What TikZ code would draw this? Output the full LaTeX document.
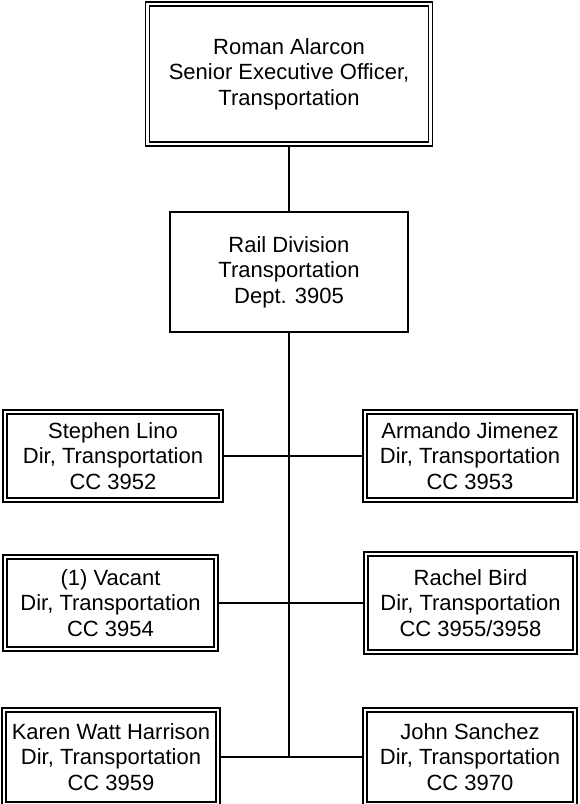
\documentclass[tikz,border=0pt]{standalone}
\usepackage{fontspec}
\setmainfont{Liberation Sans}
\begin{document}
\begin{tikzpicture}[x=1pt,y=-1pt,
  txt/.style={font=\fontsize{22}{25.5}\selectfont, align=center, inner sep=0pt},
  pbox/.style={txt, draw, line width=1.8pt, rectangle, minimum width=#1},
  sbox/.style={txt, draw, line width=1.6pt, rectangle},
  conn/.style={line width=1.8pt}]
\fill[white] (0,0) rectangle (579,804);
\useasboundingbox (0,0) rectangle (579,804);

\node[pbox=287, minimum height=144] (top) at (289,74) {Roman Alarcon\\Senior Executive Officer,\\Transportation};
\node[sbox, minimum width=238, minimum height=120] (rail) at (289,272) {Rail Division\\Transportation\\Dept. 3905};

\node[pbox=220, minimum height=92] (lino) at (113,456) {Stephen Lino\\Dir, Transportation\\CC 3952};
\node[pbox=214, minimum height=92] (jim) at (470,456) {Armando Jimenez\\Dir, Transportation\\CC 3953};
\node[pbox=215, minimum height=96] (vac) at (110.5,603) {(1) Vacant\\Dir, Transportation\\CC 3954};
\node[pbox=213, minimum height=102] (bird) at (470.5,603) {Rachel Bird\\Dir, Transportation\\CC 3955/3958};
\node[pbox=218, minimum height=98] (karen) at (111,757) {Karen Watt Harrison\\Dir, Transportation\\CC 3959};
\node[pbox=214, minimum height=98] (john) at (470,757) {John Sanchez\\Dir, Transportation\\CC 3970};

\foreach \n in {top,lino,jim,vac,bird,karen,john}{
  \draw[line width=1.4pt] ([shift={(5,5)}]\n.north west) rectangle ([shift={(-5,-5)}]\n.south east);
}

\coordinate (bend) at (rail.south |- karen.east);
\draw[conn] (top.south) -- (rail.north);
\draw[conn] (rail.south) -- (bend);
\draw[conn] (lino.east) -- (jim.west);
\draw[conn] (vac.east) -- (bird.west);
\draw[conn] (karen.east) -- (john.west);
\end{tikzpicture}
\end{document}
